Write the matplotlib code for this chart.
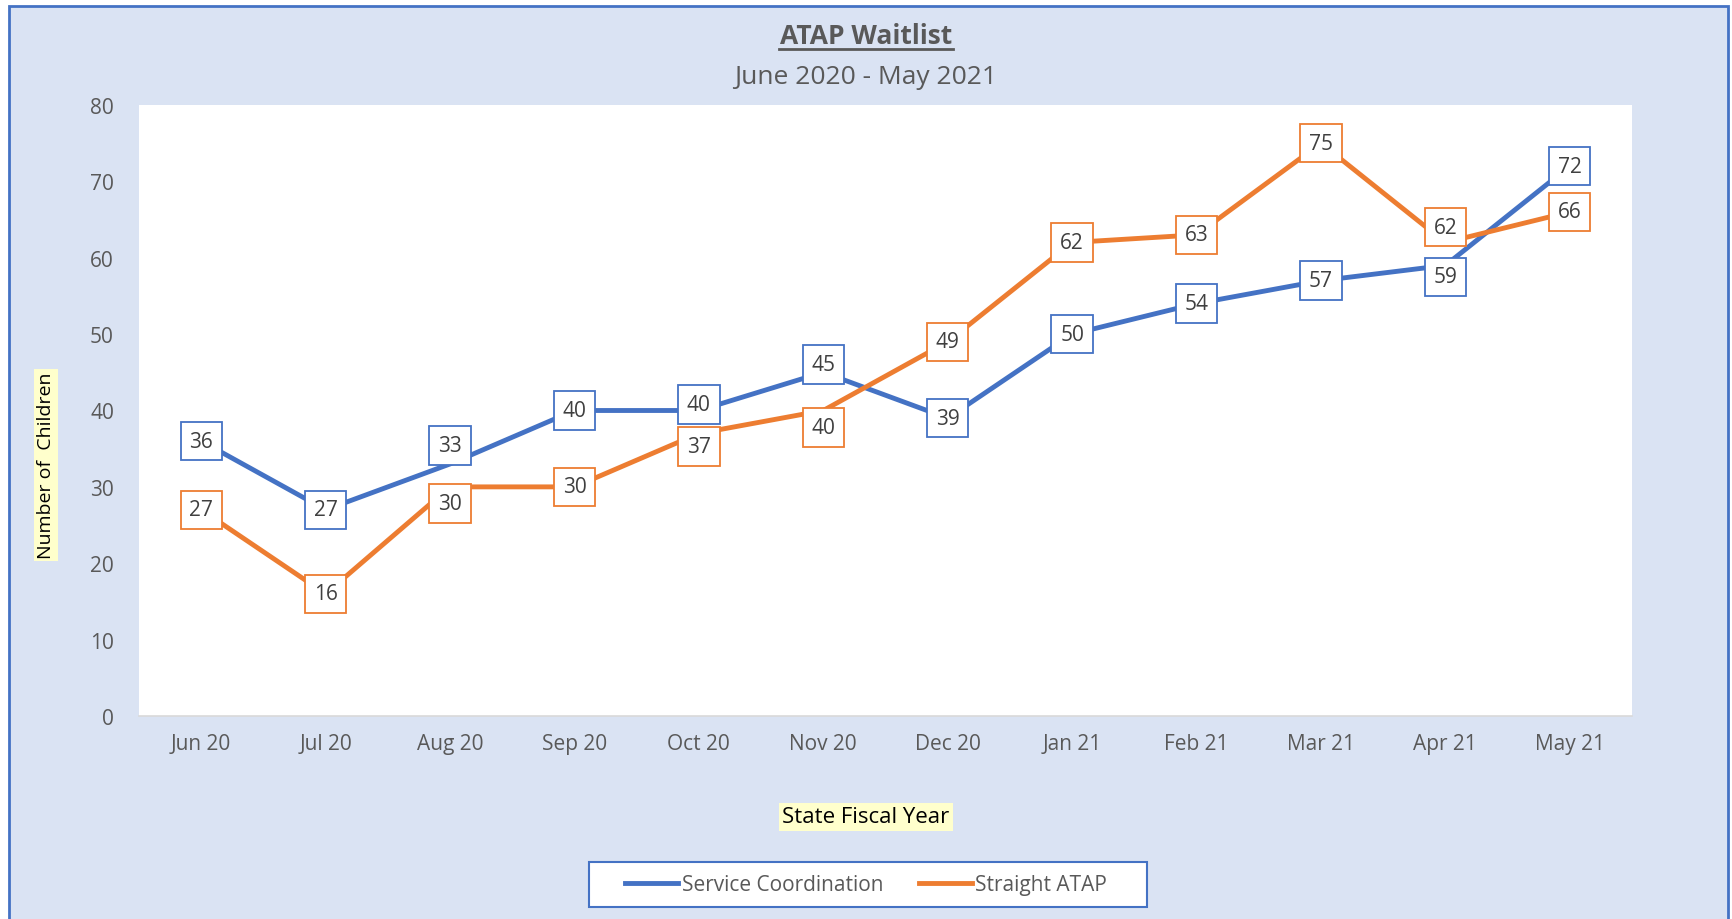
import matplotlib.pyplot as plt
from matplotlib.patches import Rectangle

months = ["Jun 20", "Jul 20", "Aug 20", "Sep 20", "Oct 20", "Nov 20",
          "Dec 20", "Jan 21", "Feb 21", "Mar 21", "Apr 21", "May 21"]
service_coord = [36, 27, 33, 40, 40, 45, 39, 50, 54, 57, 59, 72]
straight_atap = [27, 16, 30, 30, 37, 40, 49, 62, 63, 75, 62, 66]

# label nudges (Excel pushes overlapping labels apart)
nudge_service = {2: 2.4, 4: 0.8, 5: 1.0, 10: -1.5}
nudge_straight = {2: -2.2, 4: -1.7, 5: -2.2, 10: 2.0}

blue = "#4472C4"
orange = "#ED7D31"
grey = "#595959"
bg = "#DAE3F3"

plt.rcParams['font.family'] = ['Open Sans', 'DejaVu Sans']

W, H = 1733, 920
fig = plt.figure(figsize=(W / 100, H / 100), dpi=100)
fig.patch.set_facecolor("white")

# chart area with blue border
fig.patches.append(Rectangle((9 / W, -0.05), 1719 / W, 1.05 - 7 / H,
                             transform=fig.transFigure, facecolor=bg,
                             edgecolor=blue, linewidth=2, zorder=-5))
# legend box
fig.patches.append(Rectangle((589 / W, 1 - 908 / H), (1147 - 589) / W, 45 / H,
                             transform=fig.transFigure, facecolor="white",
                             edgecolor=blue, linewidth=1.5, zorder=-4))

ax = fig.add_axes([139 / W, 1 - 717 / H, (1632 - 139) / W, (717 - 106) / H])
ax.set_facecolor("white")

x = range(len(months))
ax.plot(x, service_coord, color=blue, lw=3.5, label="Service Coordination", zorder=2)
ax.plot(x, straight_atap, color=orange, lw=3.5, label="Straight ATAP", zorder=2)

for ys, col, nudge in [(service_coord, blue, nudge_service),
                       (straight_atap, orange, nudge_straight)]:
    for xi, yi in enumerate(ys):
        ax.text(xi, yi + nudge.get(xi, 0), str(yi), ha="center", va="center",
                fontsize=15, color="#404040", zorder=3,
                bbox=dict(boxstyle="square,pad=0.42", facecolor="white", edgecolor=col, lw=1.3))

ax.set_xlim(-0.5, len(months) - 0.5)
ax.set_ylim(0, 80)
ax.set_yticks(range(0, 81, 10))
ax.set_xticks(list(x))
ax.set_xticklabels(months)
ax.tick_params(axis="both", length=0, labelsize=15, colors=grey)
ax.tick_params(axis="y", pad=18)
ax.tick_params(axis="x", pad=12)
for s in ["top", "right", "left"]:
    ax.spines[s].set_visible(False)
ax.spines["bottom"].set_color("#D9D9D9")
ax.spines["bottom"].set_linewidth(1.2)

fig.text(866 / W, 1 - 36 / H, "ATAP Waitlist", ha="center", va="center",
         fontsize=19, fontweight="bold", color=grey)
fig.add_artist(plt.Line2D([779 / W, 953 / W], [1 - 50 / H, 1 - 50 / H], color=grey, lw=2))
fig.text(866 / W, 1 - 77 / H, "June 2020 - May 2021", ha="center", va="center",
         fontsize=19, color=grey)

fig.text(46 / W, 1 - 466 / H, "Number of  Children", rotation=90, ha="center", va="center",
         fontsize=14, color="black",
         bbox=dict(boxstyle="square,pad=0.15", facecolor="#FFFFCC", edgecolor="none"))
fig.text(866 / W, 1 - 818 / H, "State Fiscal Year", ha="center", va="center",
         fontsize=16, color="black",
         bbox=dict(boxstyle="square,pad=0.15", facecolor="#FFFFCC", edgecolor="none"))

leg = fig.legend(loc="center", bbox_to_anchor=(866 / W, 1 - 886 / H), ncol=2,
                 fontsize=15, frameon=False, handlelength=2.55,
                 columnspacing=1.7, borderpad=0.5, borderaxespad=0, handletextpad=0.15)
for t in leg.get_texts():
    t.set_color(grey)

fig.savefig("out.png", dpi=100, facecolor=fig.get_facecolor())
